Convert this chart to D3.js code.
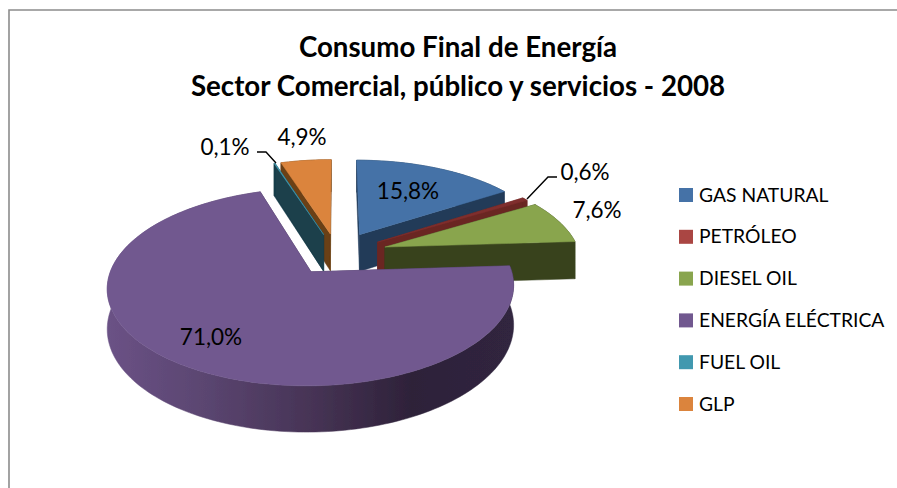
<!DOCTYPE html>
<html><head><meta charset="utf-8">
<script src="https://cdn.jsdelivr.net/npm/d3@7"></script>
<style>html,body{margin:0;background:#fff}svg{display:block}text{font-family:Lato,"Open Sans",sans-serif;fill:#000}</style>
</head><body><div id="c"></div>
<script>
const categories = ["GAS NATURAL","PETRÓLEO","DIESEL OIL","ENERGÍA ELÉCTRICA","FUEL OIL","GLP"];
const values = [15.8,0.6,7.6,71.0,0.1,4.9];
const valueLabels = ["15,8%","0,6%","7,6%","71,0%","0,1%","4,9%"];
const titleLines = ["Consumo Final de Energía","Sector Comercial, público y servicios - 2008"];
const topColors = ["#4572A7","#7F2F2D","#89A54E","#71588F","#4198AF","#DB843D"];
const wallColors = ["#213A58","#6A2624","#39431E","#3F2F52","#1B3F4B","#6B3F14"];
const legendColors = ["#4572A7","#AA4643","#89A54E","#71588F","#4198AF","#DB843D"];
const explosion = [0.25,0.25,0.26,0.23,0.23,0.23];

const W=897,H=488;
const cx=337,cy=254,S=195,K=91,P=0.15,DEPTH=38;
const labelPos=[[408,191],[585,172],[597,210],[211,337],[225,147],[302,137]];
const leaders={1:[[527,199],[548,177],[557,177]],4:[[276,163],[266,152],[257,152]]};

const svg=d3.select("#c").append("svg").attr("width",W).attr("height",H);
const defs=svg.append("defs");
const grad=defs.append("linearGradient").attr("id","pw").attr("gradientUnits","userSpaceOnUse")
  .attr("x1",105).attr("x2",513).attr("y1",0).attr("y2",0);
[[0,"#6B5286"],[0.25,"#5A4570"],[0.5,"#473456"],[0.75,"#2E2239"],[1,"#30253F"]]
  .forEach(([o,c])=>grad.append("stop").attr("offset",o).attr("stop-color",c));
defs.append("filter").attr("id","soft").append("feGaussianBlur").attr("stdDeviation",0.45);

// Border: left and top edges only
const border=d3.path();border.moveTo(9,H);border.lineTo(9,10);border.lineTo(W,10);
svg.append("path").attr("d",border.toString()).attr("fill","none").attr("stroke","#8C8C8C").attr("stroke-width",1.6);

// Title
svg.append("g").selectAll("text").data(titleLines).join("text")
  .attr("x",458).attr("y",(d,i)=>57+i*39).attr("text-anchor","middle")
  .attr("font-size",27.7).attr("font-weight",700).text(d=>d);

// 3D pie: d3.pie gives the angles, a small perspective maps them onto the tilted disc
const arcs=d3.pie().sort(null).value(d=>d)(values).map((a,i)=>({...a,i}));
const proj=(u,v,z=0)=>{const w=1/(1-P*v);return [cx+S*u*w,cy+K*v*w+z*w];};
const pieG=svg.append("g").attr("filter","url(#soft)");
const line=d3.line();
arcs.forEach(a=>{const m=(a.startAngle+a.endAngle)/2;a.ou=explosion[a.i]*Math.sin(m);a.ov=-explosion[a.i]*Math.cos(m);});
// Back-to-front: the wedges at the far side are painted first
const paintOrder=[5,4,0,1,2,3];
paintOrder.map(i=>arcs[i]).forEach(a=>{
  const n=Math.max(2,Math.ceil((a.endAngle-a.startAngle)*40));
  const angs=d3.range(n+1).map(k=>a.startAngle+(a.endAngle-a.startAngle)*k/n);
  const rim=angs.map(t=>[a.ou+Math.sin(t),a.ov-Math.cos(t)]);
  const pts=z=>rim.map(([u,v])=>proj(u,v,z));
  const apex=z=>proj(a.ou,a.ov,z);
  const g=pieG.append("g");
  const wall=a.i===3?"url(#pw)":wallColors[a.i];
  const side=(p)=>g.append("path").attr("d",line([apex(0),proj(p[0],p[1],0),proj(p[0],p[1],DEPTH),apex(DEPTH)])+"Z").attr("fill",wallColors[a.i]).attr("stroke",wallColors[a.i]).attr("stroke-width",.5);
  side(rim[0]);side(rim[n]);
  g.append("path").attr("d",line(pts(0).concat(pts(DEPTH).reverse()))+"Z").attr("fill",wall).attr("stroke",wall).attr("stroke-width",.5);
  g.append("path").attr("d",line([apex(0)].concat(pts(0)))+"Z").attr("fill",topColors[a.i]).attr("stroke",topColors[a.i]).attr("stroke-width",.5);
});

// Leader lines
Object.entries(leaders).forEach(([k,p])=>svg.append("path").attr("d",line(p)).attr("fill","none").attr("stroke","#000").attr("stroke-width",1.4));

// Value labels
svg.append("g").selectAll("text").data(valueLabels).join("text")
  .attr("x",(d,i)=>labelPos[i][0]).attr("y",(d,i)=>labelPos[i][1]+8).attr("text-anchor","middle")
  .attr("font-size",22.5).text(d=>d);

// Legend
const ly=d3.scalePoint().domain(categories).range([195,404]);
const leg=svg.append("g").selectAll("g").data(categories).join("g").attr("transform",d=>`translate(679,${ly(d)})`);
leg.append("rect").attr("y",-7).attr("width",14).attr("height",14).attr("fill",(d,i)=>legendColors[i]);
leg.append("text").attr("x",20).attr("y",6.5).attr("font-size",19.3).text(d=>d);
</script></body></html>
